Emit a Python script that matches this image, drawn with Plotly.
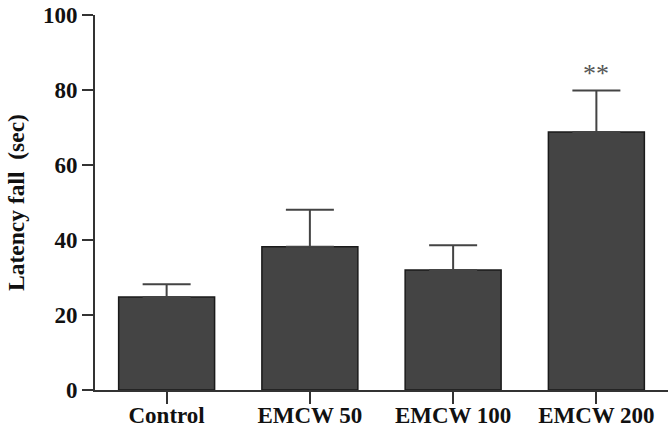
import plotly.graph_objects as go

categories = ["Control", "EMCW 50", "EMCW 100", "EMCW 200"]
means = [24.8, 38.2, 32.0, 68.8]
sem = [3.4, 9.9, 6.6, 11.1]
sig_labels = ["", "", "", "**"]
y_ticks = [0, 20, 40, 60, 80, 100]

FONT = "Liberation Serif"

fig = go.Figure()
fig.add_trace(go.Bar(
    x=categories, y=means,
    width=0.67,
    marker=dict(color="#444444", line=dict(color="#1a1a1a", width=1.5)),
    error_y=dict(type="data", array=sem, symmetric=False, arrayminus=[0]*len(sem),
                 color="#444444", thickness=2, width=24),
))

for c, m, s, lab in zip(categories, means, sem, sig_labels):
    if lab:
        fig.add_annotation(x=c, y=m + s, text=lab, showarrow=False, yshift=17,
                           font=dict(family=FONT, size=26, color="#555555"))

fig.update_layout(
    width=668, height=430,
    margin=dict(l=95, r=0, t=15, b=40, autoexpand=False),
    plot_bgcolor="white", paper_bgcolor="white",
    showlegend=False,
    bargap=0.33,
)
fig.update_xaxes(
    range=[-0.5, 3.5], showline=True, linecolor="#333333", linewidth=2,
    ticks="outside", ticklen=12, tickwidth=2, tickcolor="#333333",
    tickfont=dict(family=FONT, size=23, color="#111111", weight="bold"),
    ticklabelstandoff=-9,
    showgrid=False, zeroline=False, automargin=False,
)
fig.update_yaxes(
    range=[0, 100], tickmode="array", tickvals=y_ticks,
    showline=True, linecolor="#333333", linewidth=2,
    ticks="outside", ticklen=11, tickwidth=2, tickcolor="#333333",
    tickfont=dict(family=FONT, size=23, color="#111111", weight="bold"),
    showgrid=False, zeroline=False, automargin=False,
    title=dict(text="Latency fall\u00a0\u00a0(sec)",
               font=dict(family=FONT, size=23.5, color="#111111", weight="bold"), standoff=12),
)

fig.write_html("out.html")
